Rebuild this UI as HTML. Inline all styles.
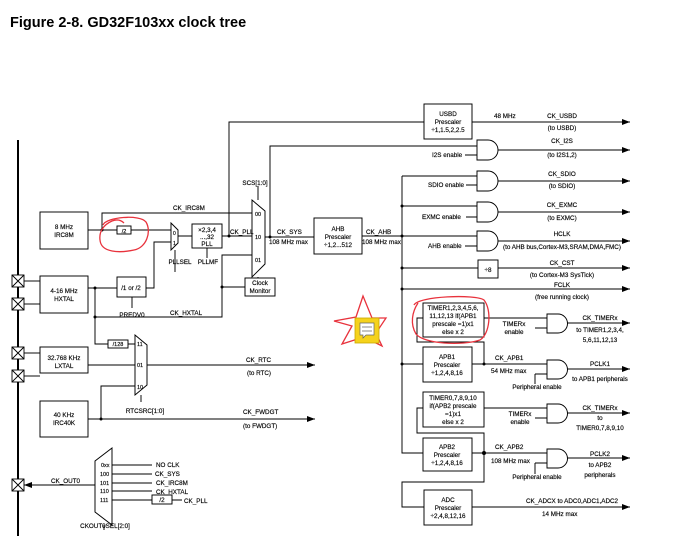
<!DOCTYPE html>
<html><head><meta charset="utf-8"><style>
html,body{margin:0;padding:0;background:#fff;width:673px;height:550px;overflow:hidden}
svg{display:block}
text{font-family:"Liberation Sans",Arial,sans-serif;font-size:6.3px;fill:#000;stroke:#000;stroke-width:0.15}
</style></head><body>
<svg width="673" height="550" viewBox="0 0 673 550" xmlns="http://www.w3.org/2000/svg">
<defs>
<marker id="a" markerWidth="8" markerHeight="6" refX="8" refY="3" orient="auto" markerUnits="userSpaceOnUse"><path d="M0,0 L8,3 L0,6 Z" fill="#000"/></marker>
</defs>
<text x="10" y="27" style="font-size:14.5px;font-weight:bold;stroke:none">Figure 2-8. GD32F103xx clock tree</text>
<g stroke="#000" stroke-width="0.95" fill="none">
<line x1="18" y1="140" x2="18" y2="536" stroke-width="2"/>
<g fill="#fff" stroke-width="0.9">
<rect x="12" y="275" width="12" height="12"/><path d="M12,275 L24,287 M24,275 L12,287"/>
<rect x="12" y="298" width="12" height="12"/><path d="M12,298 L24,310 M24,298 L12,310"/>
<rect x="12" y="347" width="12" height="12"/><path d="M12,347 L24,359 M24,347 L12,359"/>
<rect x="12" y="370" width="12" height="12"/><path d="M12,370 L24,382 M24,370 L12,382"/>
<rect x="12" y="479" width="12" height="12"/><path d="M12,479 L24,491 M24,479 L12,491"/>
</g>
<line x1="24" y1="281" x2="40" y2="281"/><line x1="24" y1="304" x2="40" y2="304"/>
<line x1="24" y1="353" x2="40" y2="353"/><line x1="24" y1="376" x2="40" y2="376"/>
<rect x="40" y="212" width="48" height="37"/>
<rect x="40" y="276" width="48" height="37"/>
<rect x="40" y="347" width="48" height="26"/>
<rect x="40" y="401" width="48" height="36"/>
<rect x="117" y="226" width="14" height="8"/>
<rect x="117" y="277" width="29" height="20"/>
<rect x="192" y="224" width="30" height="24"/>
<rect x="245" y="278" width="30" height="18"/>
<rect x="108" y="340" width="20" height="8"/>
<rect x="152" y="495" width="20" height="9"/>
<rect x="314" y="218" width="48" height="36"/>
<rect x="424" y="104" width="48" height="35"/>
<rect x="478" y="260" width="20" height="18"/>
<rect x="423" y="303" width="61" height="34"/>
<rect x="423" y="347" width="49" height="35"/>
<rect x="423" y="392" width="61" height="35"/>
<rect x="423" y="438" width="49" height="33"/>
<rect x="424" y="490" width="48" height="35"/>
<path d="M171,223 L178,230 L178,243 L171,250 Z"/>
<path d="M252,200 L265,211 L265,264 L252,277 Z"/>
<path d="M135,335 L147,345 L147,385 L135,395 Z"/>
<path d="M112,448 L95,461 L95,512 L112,525 Z"/>
<path d="M88,230 H117 M131,230 H171"/>
<path d="M102,230 V213 H252"/>
<path d="M178,236 H192 M222,236 H252"/>
<path d="M175,250 V272 M207,248 V258"/>
<path d="M88,288 H117 M146,288 H154 V242 H171"/>
<path d="M132,297 V308"/>
<path d="M95,288 V344 H108 M128,344 H135"/>
<path d="M95,317 H222 V255 H252"/>
<path d="M222,287 H245 M258,277 V278"/>
<path d="M258,200 V186"/>
<path d="M229,236 V122 H424"/>
<path d="M270,237 V146 H477"/>
<path d="M265,237 H314"/>
<path d="M88,365 H135"/>
<path d="M147,365 H315" marker-end="url(#a)"/>
<path d="M141,395 V402"/>
<path d="M88,419 H315" marker-end="url(#a)"/>
<path d="M101,419 V386 H135"/>
<path d="M112,465 H152 M112,474 H152 M112,483 H152 M112,491 H152 M112,500 H152 M172,500 H182"/>
<path d="M95,485 H24" marker-end="url(#a)"/>
<path d="M104,525 V530"/>
<path d="M362,236 H402"/>
<path d="M402,176 V453 H423"/>
<path d="M402,176 H477 M402,206 H477 M402,236 H477 M402,268 H478 M402,364 H423"/>
<path d="M402,289 H630" marker-end="url(#a)"/>
<path d="M498,268 H630" marker-end="url(#a)"/>
<path d="M472,122 H630" marker-end="url(#a)"/>
<g fill="#fff">
<path d="M477,140 H488 A10,10 0 0 1 488,160 H477 Z"/>
<path d="M477,171 H488 A10,10 0 0 1 488,191 H477 Z"/>
<path d="M477,202 H488 A10,10 0 0 1 488,222 H477 Z"/>
<path d="M477,231 H488 A10,10 0 0 1 488,251 H477 Z"/>
<path d="M547,314 H558 A9.5,9.5 0 0 1 558,333 H547 Z"/>
<path d="M547,360 H558 A9.5,9.5 0 0 1 558,379 H547 Z"/>
<path d="M547,404 H558 A9.5,9.5 0 0 1 558,423 H547 Z"/>
<path d="M547,449 H558 A9.5,9.5 0 0 1 558,468 H547 Z"/>
</g>
<path d="M465,155 H477 M466,185 H477 M466,217 H477 M465,246 H477"/>
<path d="M498,150 H630" marker-end="url(#a)"/>
<path d="M498,181 H630" marker-end="url(#a)"/>
<path d="M498,212 H630" marker-end="url(#a)"/>
<path d="M498,241 H630" marker-end="url(#a)"/>
<path d="M472,364 H547 M484,364 V342 H417 V318 H423"/>
<path d="M484,318 H547 M535,328 H547"/>
<path d="M472,453 H547 M484,453 V433 H417 V408 H423"/>
<path d="M484,408 H547 M535,418 H547"/>
<path d="M535,374 H547 M535,374 V384 M535,463 H547 M535,463 V474"/>
<path d="M484,453 V482 H402 V507 H424"/>
<path d="M567,323 H630" marker-end="url(#a)"/>
<path d="M567,369 H630" marker-end="url(#a)"/>
<path d="M567,413 H630" marker-end="url(#a)"/>
<path d="M567,458 H630" marker-end="url(#a)"/>
<path d="M472,507 H630" marker-end="url(#a)"/>
</g>
<g fill="#000">
<circle cx="102" cy="230" r="1.5"/><circle cx="95" cy="288" r="1.5"/><circle cx="95" cy="317" r="1.5"/>
<circle cx="222" cy="287" r="1.5"/><circle cx="229" cy="236" r="1.5"/><circle cx="270" cy="237" r="1.5"/>
<circle cx="101" cy="419" r="1.5"/><circle cx="402" cy="206" r="1.5"/><circle cx="402" cy="236" r="1.5"/>
<circle cx="402" cy="268" r="1.5"/><circle cx="402" cy="289" r="1.5"/><circle cx="402" cy="364" r="1.5"/>
<circle cx="484" cy="364" r="1.5"/><circle cx="484" cy="453" r="2"/>
</g>
<g text-anchor="middle">
<text x="64" y="229">8 MHz</text><text x="64" y="237">IRC8M</text>
<text x="124" y="233" style="font-size:5.5px">/2</text>
<text x="64" y="293">4-16 MHz</text><text x="64" y="301">HXTAL</text>
<text x="131" y="290">/1 or /2</text>
<text x="132" y="317">PREDV0</text>
<text x="207" y="232">×2,3,4</text><text x="207" y="239">...,32</text><text x="207" y="246">PLL</text>
<text x="180" y="264">PLLSEL</text><text x="208" y="264">PLLMF</text>
<text x="260" y="285">Clock</text><text x="260" y="293">Monitor</text>
<text x="255" y="185">SCS[1:0]</text>
<text x="118" y="346" style="font-size:5.5px">/128</text>
<text x="64" y="360">32.768 KHz</text><text x="64" y="368">LXTAL</text>
<text x="64" y="417">40 KHz</text><text x="64" y="425">IRC40K</text>
<text x="145" y="413">RTCSRC[1:0]</text>
<text x="105" y="528">CKOUT0SEL[2:0]</text>
<text x="162" y="502">/2</text>
<text x="338" y="231">AHB</text><text x="338" y="239">Prescaler</text><text x="338" y="247">÷1,2...512</text>
<text x="448" y="116">USBD</text><text x="448" y="124">Prescaler</text><text x="448" y="132">÷1,1.5,2,2.5</text>
<text x="488" y="272">÷8</text>
<text x="453" y="310">TIMER1,2,3,4,5,6,</text><text x="453" y="318">11,12,13 if(APB1</text><text x="453" y="326">prescale =1)x1</text><text x="453" y="334">else x 2</text>
<text x="447" y="359">APB1</text><text x="447" y="367">Prescaler</text><text x="447" y="375">÷1,2,4,8,16</text>
<text x="453" y="400">TIMER0,7,8,9,10</text><text x="453" y="408">if(APB2 prescale</text><text x="453" y="416">=1)x1</text><text x="453" y="424">else x 2</text>
<text x="447" y="449">APB2</text><text x="447" y="457">Prescaler</text><text x="447" y="465">÷1,2,4,8,16</text>
<text x="448" y="502">ADC</text><text x="448" y="510">Prescaler</text><text x="448" y="518">÷2,4,8,12,16</text>
<text x="562" y="118">CK_USBD</text><text x="562" y="130">(to USBD)</text>
<text x="562" y="143">CK_I2S</text><text x="562" y="157">(to I2S1,2)</text>
<text x="562" y="176">CK_SDIO</text><text x="562" y="188">(to SDIO)</text>
<text x="562" y="207">CK_EXMC</text><text x="562" y="220">(to EXMC)</text>
<text x="562" y="236">HCLK</text><text x="562" y="249">(to AHB bus,Cortex-M3,SRAM,DMA,FMC)</text>
<text x="562" y="265">CK_CST</text><text x="562" y="277">(to Cortex-M3 SysTick)</text>
<text x="562" y="287">FCLK</text><text x="562" y="299">(free running clock)</text>
<text x="600" y="320">CK_TIMERx</text><text x="600" y="332">to TIMER1,2,3,4,</text><text x="600" y="342">5,6,11,12,13</text>
<text x="600" y="366">PCLK1</text><text x="600" y="381">to APB1 peripherals</text>
<text x="600" y="410">CK_TIMERx</text><text x="600" y="420">to</text><text x="600" y="430">TIMER0,7,8,9,10</text>
<text x="600" y="456">PCLK2</text><text x="600" y="467">to APB2</text><text x="600" y="477">peripherals</text>
<text x="514" y="326">TIMERx</text><text x="514" y="334">enable</text>
<text x="520" y="416">TIMERx</text><text x="520" y="424">enable</text>
<text x="537" y="389">Peripheral enable</text>
<text x="537" y="479">Peripheral enable</text>
</g>
<text x="101" y="467" style="font-size:5.5px">0xx</text><text x="100" y="476" style="font-size:5.5px">100</text>
<text x="100" y="485" style="font-size:5.5px">101</text><text x="100" y="493" style="font-size:5.5px">110</text>
<text x="100" y="502" style="font-size:5.5px">111</text>
<text x="156" y="467">NO CLK</text><text x="155" y="476">CK_SYS</text><text x="156" y="485">CK_IRC8M</text>
<text x="156" y="494">CK_HXTAL</text><text x="184" y="503">CK_PLL</text>
<text x="51" y="483">CK_OUT0</text>
<text x="173" y="210">CK_IRC8M</text>
<text x="230" y="234">CK_PLL</text>
<text x="277" y="234">CK_SYS</text><text x="269" y="244">108 MHz max</text>
<text x="366" y="234">CK_AHB</text><text x="362" y="244">108 MHz max</text>
<text x="170" y="315">CK_HXTAL</text>
<text x="173" y="235" style="font-size:5px">0</text><text x="173" y="245" style="font-size:5px">1</text>
<text x="255" y="216" style="font-size:5.5px">00</text><text x="255" y="239" style="font-size:5.5px">10</text><text x="255" y="262" style="font-size:5.5px">01</text>
<text x="137" y="346" style="font-size:5.5px">11</text><text x="137" y="367" style="font-size:5.5px">01</text><text x="137" y="389" style="font-size:5.5px">10</text>
<text x="246" y="362">CK_RTC</text><text x="247" y="375">(to RTC)</text>
<text x="243" y="414">CK_FWDGT</text><text x="243" y="428">(to FWDGT)</text>
<text x="494" y="118">48 MHz</text>
<text x="432" y="157">I2S enable</text><text x="428" y="187">SDIO enable</text>
<text x="422" y="219">EXMC  enable</text><text x="428" y="248">AHB  enable</text>
<text x="495" y="360">CK_APB1</text><text x="491" y="373">54 MHz max</text>
<text x="495" y="449">CK_APB2</text><text x="491" y="463">108 MHz max</text>
<text x="526" y="503">CK_ADCX to ADC0,ADC1,ADC2</text><text x="542" y="516">14 MHz max</text>
<g fill="none" stroke="#e8323c" stroke-width="1.3">
<path d="M103,225 C106,217 140,214 146,222 C152,232 146,248 134,250 C120,253 101,253 100,240 C99,232 103,225 112,221 C117,219 121,220 124,223"/>
<path d="M414,305 C418,296 476,294 484,300 C492,310 490,334 480,340 C462,346 424,344 416,334 C410,324 412,312 418,303"/>
<path d="M363,296 L372,318 L386,318 L376,333 L382,346 L364,337 L342,344 L352,326 L334,321 L356,317 Z"/>
</g>
<rect x="355" y="318" width="24" height="25" fill="#f5d21c" stroke="#c9a800" stroke-width="0.8"/>
<path d="M360,323 H374 V335 H366 L363,338 V335 H360 Z" fill="#fff" stroke="#666" stroke-width="0.7"/>
<path d="M362,327 H372 M362,331 H372" stroke="#666" stroke-width="0.7"/>
</svg>
</body></html>
